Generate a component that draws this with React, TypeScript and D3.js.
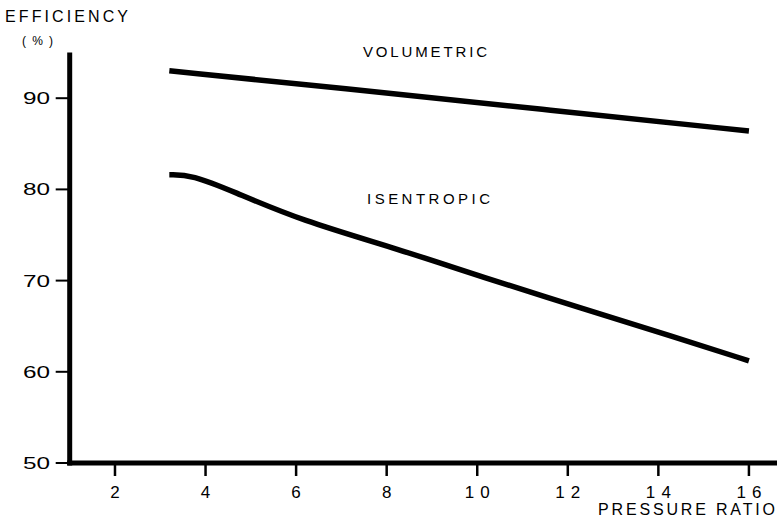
import React from "react";
import * as d3 from "d3";

const xTicks = [2, 4, 6, 8, 10, 12, 14, 16];
const yTicks = [50, 60, 70, 80, 90];

const volumetricX = [3.2, 7.0, 11.4, 16.0];
const volumetricY = [93.0, 91.1, 88.8, 86.4];

const isentropicX = [3.2, 3.7, 4.6, 6.1, 8.3, 10.1, 12.3, 14.3, 16.0];
const isentropicY = [81.6, 81.6, 79.8, 76.6, 73.4, 70.4, 67.0, 63.9, 61.2];

const W = 777;
const H = 520;
const FONT = "'Liberation Sans', Arial, sans-serif";

export default function App() {
  const x = d3.scaleLinear().domain([1, 16.62]).range([69.7, 777]);
  const y = d3.scaleLinear().domain([50, 95]).range([463, 52.6]);

  const line = d3
    .line<[number, number]>()
    .x((d) => x(d[0]))
    .y((d) => y(d[1]))
    .curve(d3.curveBasis);

  const vol: [number, number][] = volumetricX.map((v, i) => [v, volumetricY[i]]);
  const isen: [number, number][] = isentropicX.map((v, i) => [v, isentropicY[i]]);

  const x0 = x(1);
  const y0 = y(50);

  return (
    <svg
      width={W}
      height={H}
      style={{ position: "absolute", left: 0, top: 0, background: "#fff" }}
      fontFamily={FONT}
    >
      <rect width={W} height={H} fill="#fff" />
      {/* axes */}
      <line x1={x0} y1={y(95)} x2={x0} y2={y0 + 2.5} stroke="#000" strokeWidth={5} />
      <line x1={x0 - 2.5} y1={y0} x2={W} y2={y0} stroke="#000" strokeWidth={5} />

      {/* y ticks */}
      {yTicks.map((t) => (
        <g key={"y" + t}>
          <line x1={x0 - 14} x2={x0} y1={y(t)} y2={y(t)} stroke="#000" strokeWidth={2} />
          <text
            x={50}
            y={y(t) + 6}
            textAnchor="end"
            fontSize={16}
            textLength={27}
            lengthAdjust="spacingAndGlyphs"
          >
            {t}
          </text>
        </g>
      ))}

      {/* x ticks */}
      {xTicks.map((t) => (
        <g key={"x" + t}>
          <line x1={x(t)} x2={x(t)} y1={y0} y2={y0 + 13} stroke="#000" strokeWidth={2.5} />
          <text
            x={x(t)}
            y={498}
            textAnchor="middle"
            fontSize={17}
            {...(t >= 10 ? { textLength: 25, lengthAdjust: "spacing" } : {})}
          >
            {t}
          </text>
        </g>
      ))}

      {/* curves */}
      <path d={line(vol) || ""} fill="none" stroke="#000" strokeWidth={5.5} />
      <path d={line(isen) || ""} fill="none" stroke="#000" strokeWidth={5.5} />

      {/* labels */}
      <text x={363} y={57} fontSize={15} textLength={124} lengthAdjust="spacing">
        VOLUMETRIC
      </text>
      <text x={367} y={204} fontSize={15} textLength={123} lengthAdjust="spacing">
        ISENTROPIC
      </text>
      <text x={5} y={22} fontSize={16} textLength={123} lengthAdjust="spacing">
        EFFICIENCY
      </text>
      <text x={22} y={45} fontSize={12} textLength={31} lengthAdjust="spacing">
        (%)
      </text>
      <text x={598} y={515} fontSize={16} textLength={177} lengthAdjust="spacing">
        PRESSURE RATIO
      </text>
    </svg>
  );
}
